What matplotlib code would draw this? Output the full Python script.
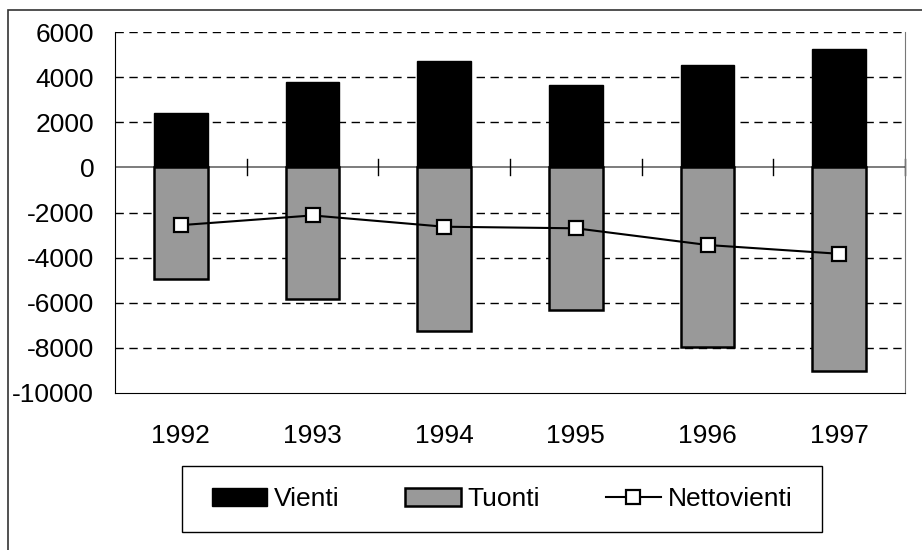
import matplotlib.pyplot as plt
from matplotlib.patches import Rectangle

plt.rcParams['font.family'] = ['Liberation Sans', 'DejaVu Sans']
plt.rcParams['axes.unicode_minus'] = False

# data
years = ['1992', '1993', '1994', '1995', '1996', '1997']
vienti = [2420, 3780, 4700, 3630, 4530, 5240]
tuonti = [-4960, -5850, -7250, -6320, -7950, -9030]
nettovienti = [-2560, -2130, -2630, -2700, -3440, -3830]

fig = plt.figure(figsize=(9.22, 5.5), dpi=100)
ax = fig.add_axes([115 / 922, 157 / 550, 790 / 922, 361 / 550])

x = list(range(len(years)))
b1 = ax.bar(x, vienti, width=0.41, color='black', edgecolor='black', linewidth=1, label='Vienti', zorder=3)
b2 = ax.bar(x, tuonti, width=0.41, color='#999999', edgecolor='black', linewidth=1.8, label='Tuonti', zorder=3)
l1, = ax.plot(x, nettovienti, color='black', linewidth=1.5, marker='s', markersize=10,
              markerfacecolor='white', markeredgecolor='black', markeredgewidth=1.6,
              label='Nettovienti', zorder=4)

ax.set_xlim(-0.5, len(years) - 0.5)
ax.set_ylim(-10000, 6000)
ax.set_yticks(range(-10000, 6001, 2000))
ax.set_xticks(x)
ax.set_xticklabels(years)
ax.tick_params(axis='both', labelsize=19, length=0)
ax.tick_params(axis='y', pad=15)
ax.tick_params(axis='x', pad=22)

# dashed gridlines
for v in range(-8000, 6001, 2000):
    if v != 0:
        ax.axhline(v, color='black', linewidth=1, linestyle=(0, (6, 4)), zorder=1)
ax.axhline(0, color='#666666', linewidth=1.2, zorder=2)
# small ticks on zero line at category boundaries
for b in range(1, len(years) + 1):
    ax.plot([b - 0.5, b - 0.5], [-350, 350], color='black', linewidth=1, zorder=2, clip_on=False)

ax.spines['top'].set_visible(False)
ax.spines['right'].set_color('#777777')
ax.spines['left'].set_color('black')
ax.spines['bottom'].set_color('black')

leg = fig.legend([b1, b2, l1], ['Vienti', 'Tuonti', 'Nettovienti'],
                 loc='center', bbox_to_anchor=(502 / 922, 1 - 499 / 550), ncol=3,
                 fontsize=19, frameon=False,
                 handlelength=2.1, handletextpad=0.25, columnspacing=2.5, borderpad=0.7,
                 borderaxespad=0)

# legend box
fig.patches.append(Rectangle((182 / 922, 1 - 532 / 550), 640 / 922, 66 / 550, transform=fig.transFigure,
                             fill=False, edgecolor='black', linewidth=1))

# outer chart frame
fig.patches.append(Rectangle((8 / 922, -0.1), 1.2, 1 - 10 / 550 + 0.1, transform=fig.transFigure,
                             fill=False, edgecolor='#333333', linewidth=1.2))

fig.savefig('out.png', dpi=100)
